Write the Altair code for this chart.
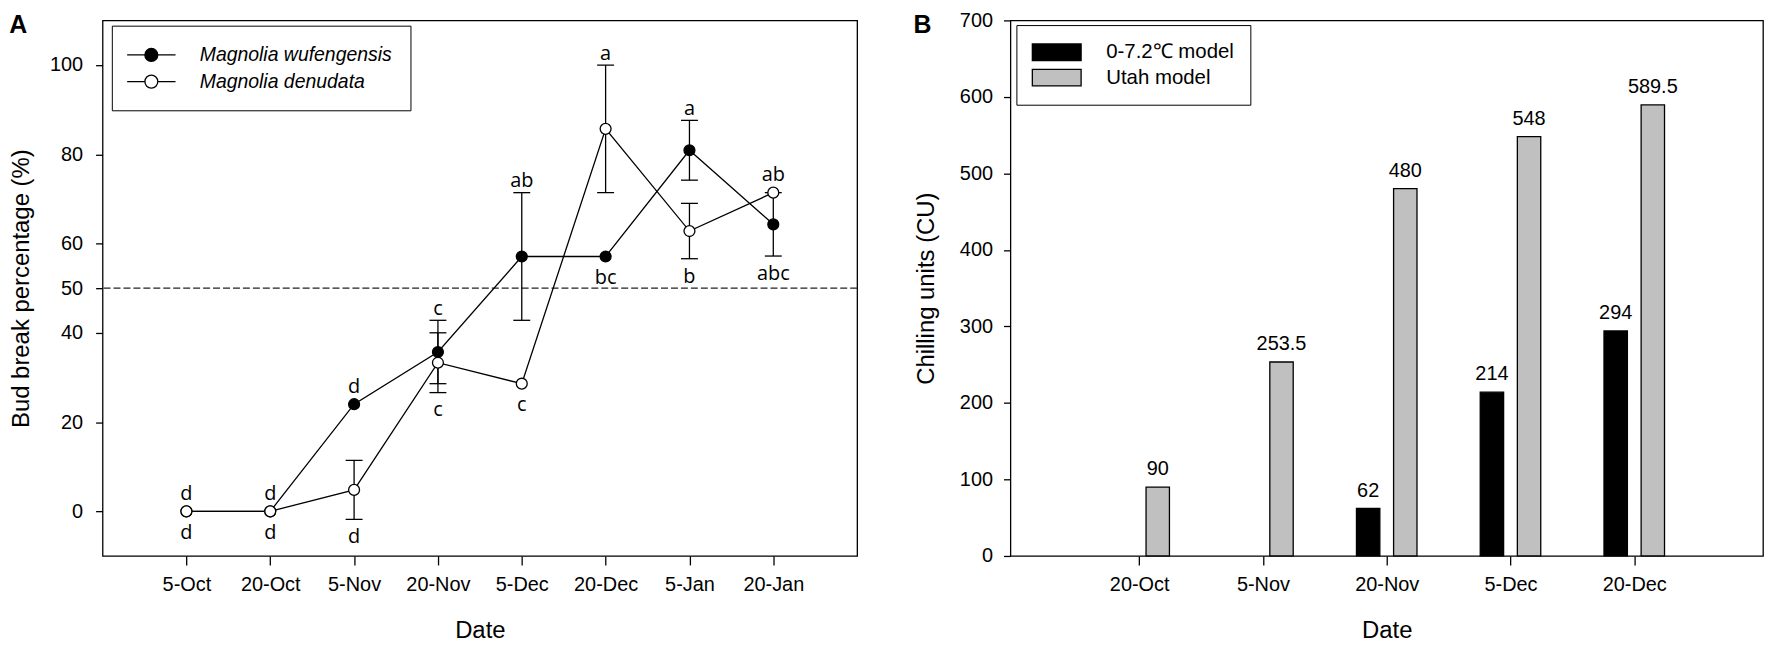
import altair as alt
import pandas as pd

# ---------------- Panel A data ----------------
dates_a = ["5-Oct", "20-Oct", "5-Nov", "20-Nov", "5-Dec", "20-Dec", "5-Jan", "20-Jan"]
series_a = ["Magnolia wufengensis", "Magnolia denudata"]
wuf_mean = [0, 0, 24.0, 35.7, 57.1, 57.1, 80.9, 64.3]
wuf_err = [0, 0, 0, 7.1, 14.3, 0, 6.7, 7.1]
den_mean = [0, 0, 4.8, 33.3, 28.6, 85.7, 62.8, 71.4]
den_err = [0, 0, 6.6, 6.7, 0, 14.3, 6.2, 0]

letter_dates = ["5-Oct", "5-Oct", "20-Oct", "20-Oct", "5-Nov", "5-Nov", "20-Nov", "20-Nov",
                "5-Dec", "5-Dec", "20-Dec", "20-Dec", "5-Jan", "5-Jan", "20-Jan", "20-Jan"]
letter_series = ["Magnolia wufengensis", "Magnolia denudata"] * 4 + [
    "Magnolia wufengensis", "Magnolia denudata",
    "Magnolia denudata", "Magnolia wufengensis",
    "Magnolia wufengensis", "Magnolia denudata",
    "Magnolia denudata", "Magnolia wufengensis"]
letter_side = ["above", "below"] * 8
letter_text = ["d", "d", "d", "d", "d", "d", "c", "c", "ab", "c", "a", "bc", "a", "b", "ab", "abc"]

# ---------------- Panel B data ----------------
dates_b = ["20-Oct", "5-Nov", "20-Nov", "5-Dec", "20-Dec"]
models_b = ["0-7.2\u2103 model", "Utah model"]
model_072 = [0, 0, 62, 214, 294]
model_utah = [90, 253.5, 480, 548, 589.5]

panel_labels = ["A", "B"]

# ---------------- Build tables ----------------
rows = []
for s, means, errs in [(series_a[0], wuf_mean, wuf_err), (series_a[1], den_mean, den_err)]:
    for i, d in enumerate(dates_a):
        rows.append({"series": s, "date": d, "idx": i, "mean": means[i], "err": errs[i],
                     "lo": means[i] - errs[i], "hi": means[i] + errs[i]})
df_a = pd.DataFrame(rows)

lt = pd.DataFrame({"date": letter_dates, "series": letter_series, "side": letter_side, "text": letter_text})
lt = lt.merge(df_a, on=["date", "series"], how="left")
lt["anchor"] = lt.apply(lambda r: r["hi"] if r["side"] == "above" else r["lo"], axis=1)
lt["has_err"] = lt["err"] > 0

brow = []
for m, vals, off in [(models_b[0], model_072, -0.15), (models_b[1], model_utah, 0.15)]:
    for i, d in enumerate(dates_b):
        if vals[i] > 0:
            brow.append({"model": m, "date": d, "idx": i, "xpos": i + off, "value": vals[i],
                         "label": f"{vals[i]:g}"})
df_b = pd.DataFrame(brow)

LABEL_FONT = "Liberation Sans"
LETTER_FONT = "Open Sans"
PLOT_H = 538


def label_expr(names):
    return "[" + ",".join("'" + n + "'" for n in names) + "][datum.value]"


def panel_letter(text, dx):
    return alt.Chart(pd.DataFrame({"t": [text]})).mark_text(
        font=LABEL_FONT, fontSize=25, fontWeight="bold", color="black",
        align="left", baseline="alphabetic").encode(
        text="t:N", x=alt.value(dx), y=alt.value(13))


# ---------------- Panel A ----------------
xa = alt.X("idx:Q", scale=alt.Scale(domain=[-1, 8], nice=False, zero=False),
           axis=alt.Axis(values=list(range(len(dates_a))), labelExpr=label_expr(dates_a),
                         title="Date", grid=False, tickSize=9, labelPadding=10, titlePadding=24))
ya_axis = alt.Axis(values=[0, 20, 40, 50, 60, 80, 100], title="Bud break percentage (%)",
                   grid=False, tickSize=7, labelPadding=13, titlePadding=16)
ya_scale = alt.Scale(domain=[-10, 110], nice=False, zero=False)

base_a = alt.Chart(df_a)

ref50 = alt.Chart(pd.DataFrame({"y": [50]})).mark_rule(
    strokeDash=[7, 3], color="#222222", strokeWidth=1.3).encode(
    y=alt.Y("y:Q", scale=ya_scale, axis=ya_axis))

lines = base_a.mark_line(color="black", strokeWidth=1.3).encode(
    x=xa, y=alt.Y("mean:Q", scale=ya_scale, axis=ya_axis), detail="series:N", order="idx:Q")

errs = base_a.transform_filter("datum.err > 0")
err_rule = errs.mark_rule(color="black", strokeWidth=1.3).encode(
    x=xa, y=alt.Y("lo:Q", scale=ya_scale, axis=ya_axis), y2="hi:Q")
cap_lo = errs.mark_tick(orient="horizontal", size=17, thickness=1.3, color="black", opacity=1).encode(
    x=xa, y=alt.Y("lo:Q", scale=ya_scale, axis=ya_axis))
cap_hi = errs.mark_tick(orient="horizontal", size=17, thickness=1.3, color="black", opacity=1).encode(
    x=xa, y=alt.Y("hi:Q", scale=ya_scale, axis=ya_axis))

# symbol drawn in units of sqrt(size)/2 = 10 px: circle r=6.5 px, line 48.6 px long
legend_a_symbol = ("M-2.43,0H-0.65M0.65,0H2.43M0.65,0A0.65,0.65,0,1,1,-0.65,0"
                   "A0.65,0.65,0,1,1,0.65,0Z")
points = base_a.mark_point(shape="circle", filled=True, size=120, stroke="black",
                           strokeWidth=1.3, opacity=1).encode(
    x=xa, y=alt.Y("mean:Q", scale=ya_scale, axis=ya_axis),
    fill=alt.Fill("series:N", scale=alt.Scale(domain=series_a, range=["black", "white"]),
                  legend=alt.Legend(title=None, orient="none", legendX=9.3, legendY=5.3,
                                    symbolType=legend_a_symbol, symbolSize=400,
                                    symbolOffset=10.3,
                                    symbolStrokeColor="black", symbolStrokeWidth=1.3,
                                    labelFontStyle="italic", labelFont=LABEL_FONT,
                                    labelFontSize=19.5, labelColor="black", labelOffset=37.6,
                                    padding=18.4, rowPadding=5.8, strokeColor="black",
                                    symbolOpacity=1)))

text_layers = []
for side, has_err, dy in [("above", True, -5.5), ("above", False, -11.5),
                          ("below", True, 24), ("below", False, 27.5)]:
    sub = lt[(lt["side"] == side) & (lt["has_err"] == has_err)]
    if len(sub) == 0:
        continue
    text_layers.append(alt.Chart(sub).mark_text(
        font=LETTER_FONT, fontSize=20, color="black", baseline="alphabetic", dy=dy).encode(
        x=xa, y=alt.Y("anchor:Q", scale=ya_scale, axis=ya_axis), text="text:N"))

chart_a = alt.layer(ref50, lines, err_rule, cap_lo, cap_hi, points, *text_layers,
                    panel_letter(panel_labels[0], -93.7)).properties(width=758, height=PLOT_H)

# ---------------- Panel B ----------------
xb = alt.X("xpos:Q", scale=alt.Scale(domain=[-1, 5], nice=False, zero=False),
           axis=alt.Axis(values=list(range(len(dates_b))), labelExpr=label_expr(dates_b),
                         title="Date", grid=False, tickSize=9, labelPadding=10, titlePadding=24))
yb = alt.Y("value:Q", scale=alt.Scale(domain=[0, 700], nice=False),
           axis=alt.Axis(values=list(range(0, 701, 100)), title="Chilling units (CU)",
                         grid=False, tickSize=7, labelPadding=11, titlePadding=21))

legend_b_symbol = "M-2.45,-0.83H2.45V0.83H-2.45Z"
bars = alt.Chart(df_b).mark_bar(size=23.5, stroke="black", strokeWidth=1.3).encode(
    x=xb, y=yb,
    fill=alt.Fill("model:N", scale=alt.Scale(domain=models_b, range=["black", "#c0c0c0"]),
                  legend=alt.Legend(title=None, orient="none", legendX=6, legendY=4.7,
                                    symbolType=legend_b_symbol, symbolSize=400,
                                    symbolOffset=13.2,
                                    symbolStrokeColor="black", symbolStrokeWidth=1.3,
                                    labelFont=LABEL_FONT, labelFontSize=20.5, labelColor="black",
                                    labelOffset=38.7, padding=16.3, rowPadding=3.5,
                                    strokeColor="black", symbolOpacity=1)))
bar_labels = alt.Chart(df_b).mark_text(font=LABEL_FONT, fontSize=20, color="black",
                                       baseline="alphabetic", dy=-12).encode(
    x=xb, y=yb, text="label:N")

chart_b = alt.layer(bars, bar_labels, panel_letter(panel_labels[1], -97.3)).properties(
    width=756, height=PLOT_H)

chart = alt.hconcat(chart_a, chart_b, spacing=54).resolve_scale(
    fill="independent").resolve_legend(fill="independent").properties(
    padding={"left": 0, "top": 0, "right": 0, "bottom": 0}
).configure_view(stroke="black", strokeWidth=1.3).configure_axis(
    domain=False, tickColor="black", tickWidth=1.3, labelFont=LABEL_FONT, labelFontSize=20,
    labelColor="black", titleFont=LABEL_FONT, titleFontSize=24, titleFontWeight="normal",
    titleColor="black").configure_legend(labelLimit=400)

chart.save("out.html", embed_options={"renderer": "svg", "actions": False})
